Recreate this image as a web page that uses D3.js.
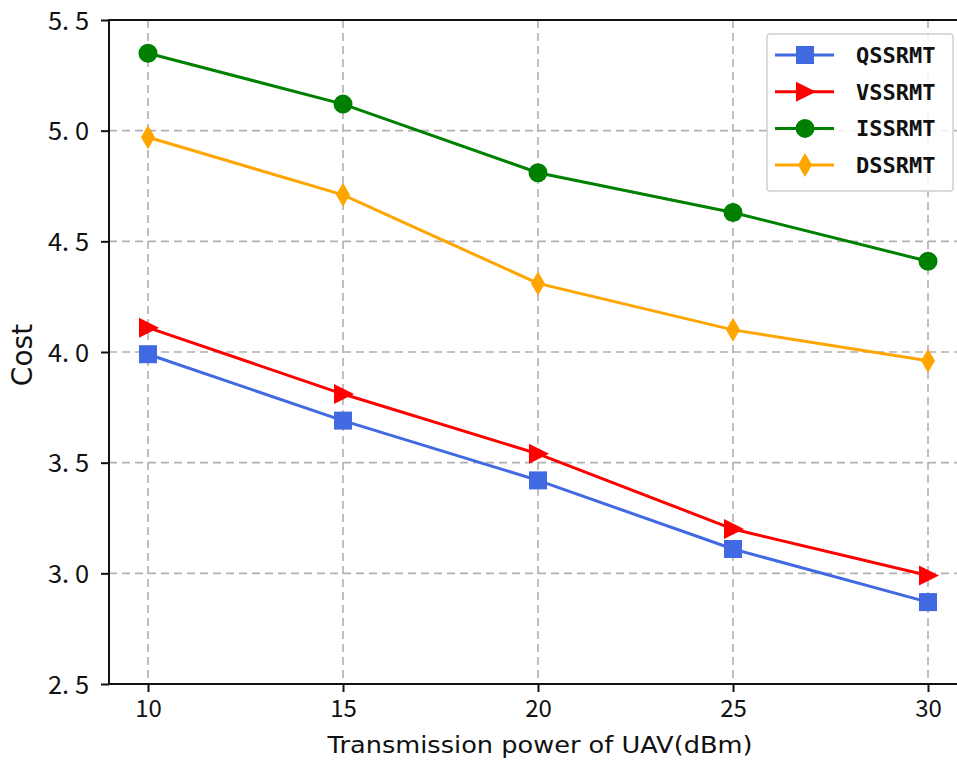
<!DOCTYPE html>
<html>
<head>
<meta charset="utf-8">
<script src="https://cdn.jsdelivr.net/npm/d3@7"></script>
<style>
  body { margin: 0; background: #fff; }
  svg { display: block; }
</style>
</head>
<body>
<div id="chart"></div>
<script>
// Data
const powers = [10, 15, 20, 25, 30];
const qssrmt = [3.99, 3.69, 3.42, 3.11, 2.87];
const vssrmt = [4.11, 3.81, 3.54, 3.20, 2.99];
const issrmt = [5.35, 5.12, 4.81, 4.63, 4.41];
const dssrmt = [4.97, 4.71, 4.31, 4.10, 3.96];
const yTicks = [2.5, 3.0, 3.5, 4.0, 4.5, 5.0, 5.5];

const series = [
  { name: "QSSRMT", values: qssrmt, color: "#4169e1", marker: "square" },
  { name: "VSSRMT", values: vssrmt, color: "#ff0000", marker: "triangle" },
  { name: "ISSRMT", values: issrmt, color: "#008000", marker: "circle" },
  { name: "DSSRMT", values: dssrmt, color: "#ffa500", marker: "diamond" }
];

const outerWidth = 957, outerHeight = 764;
const margin = { top: 20, right: -10, bottom: 80, left: 109 };
const width = outerWidth - margin.left - margin.right;
const height = outerHeight - margin.top - margin.bottom;

const svg = d3.select("#chart")
  .append("svg")
  .attr("width", outerWidth)
  .attr("height", outerHeight);

const g = svg.append("g")
  .attr("transform", `translate(${margin.left}, ${margin.top})`);

const xScale = d3.scaleLinear().domain([9, 31]).range([0, width]);
const yScale = d3.scaleLinear().domain([2.5, 5.5]).range([height, 0]);

const cjkFont = "'Noto Sans CJK SC', 'DejaVu Sans', sans-serif";
const labelFont = "'DejaVu Sans', sans-serif";

// Grid
g.append("g")
  .selectAll("line")
  .data(powers)
  .enter()
  .append("line")
  .attr("x1", d => xScale(d))
  .attr("x2", d => xScale(d))
  .attr("y1", 0)
  .attr("y2", height)
  .style("stroke", "#b0b0b0")
  .style("stroke-width", 1.6)
  .style("stroke-dasharray", "8,5");

g.append("g")
  .selectAll("line")
  .data(yTicks)
  .enter()
  .append("line")
  .attr("x1", 0)
  .attr("x2", width)
  .attr("y1", d => yScale(d))
  .attr("y2", d => yScale(d))
  .style("stroke", "#b0b0b0")
  .style("stroke-width", 1.6)
  .style("stroke-dasharray", "8,5");

// Axes
const xAxis = d3.axisBottom(xScale)
  .tickValues(powers)
  .tickSize(8)
  .tickSizeOuter(0)
  .tickPadding(8);

const yAxis = d3.axisLeft(yScale)
  .tickValues(yTicks)
  .tickSize(8)
  .tickSizeOuter(0)
  .tickPadding(12)
  .tickFormat(d => d.toFixed(1).replace(".", ". "));

const xAxisGroup = g.append("g")
  .attr("transform", `translate(0, ${height})`)
  .call(xAxis);

xAxisGroup.selectAll("text")
  .style("font-size", "24px")
  .style("font-family", cjkFont)
  .attr("fill", "#111");

const yAxisGroup = g.append("g").call(yAxis);

yAxisGroup.selectAll("text")
  .style("font-size", "25px")
  .style("font-family", cjkFont)
  .attr("fill", "#111")
  .attr("dy", "0.36em")
  .attr("textLength", 41)
  .attr("lengthAdjust", "spacingAndGlyphs");

svg.selectAll(".domain").remove();
svg.selectAll(".tick line").style("stroke", "#111").style("stroke-width", 2);

// Frame
g.append("rect")
  .attr("x", 0)
  .attr("y", 0)
  .attr("width", width)
  .attr("height", height)
  .style("fill", "none")
  .style("stroke", "#111")
  .style("stroke-width", 2);

// Axis titles
svg.append("text")
  .attr("x", 540)
  .attr("y", 753)
  .attr("text-anchor", "middle")
  .style("font-size", "23px")
  .style("font-family", labelFont)
  .attr("fill", "#111")
  .attr("textLength", 425)
  .attr("lengthAdjust", "spacingAndGlyphs")
  .text("Transmission power of UAV(dBm)");

svg.append("text")
  .attr("transform", "translate(32, 355) rotate(-90)")
  .attr("text-anchor", "middle")
  .style("font-size", "28px")
  .style("font-family", labelFont)
  .attr("fill", "#111")
  .text("Cost");

// Marker shapes
function markerPath(type) {
  if (type === "square") return "M-9,-9L9,-9L9,9L-9,9Z";
  if (type === "triangle") return "M-9,-10L11,0L-9,10Z";
  if (type === "circle") return d3.symbol().type(d3.symbolCircle).size(Math.PI * 9.5 * 9.5)();
  return "M0,-12L7,0L0,12L-7,0Z";
}

const line = d3.line()
  .x((d, i) => xScale(powers[i]))
  .y(d => yScale(d));

series.forEach(function (s) {
  g.append("path")
    .datum(s.values)
    .attr("d", line)
    .style("fill", "none")
    .style("stroke", s.color)
    .style("stroke-width", 3);

  g.selectAll(null)
    .data(s.values)
    .enter()
    .append("path")
    .attr("d", markerPath(s.marker))
    .attr("transform", (d, i) => `translate(${xScale(powers[i])}, ${yScale(d)})`)
    .style("fill", s.color);
});

// Legend
const legend = svg.append("g").attr("transform", "translate(767, 34)");

legend.append("rect")
  .attr("x", 0)
  .attr("y", 0)
  .attr("width", 186)
  .attr("height", 157)
  .attr("rx", 3)
  .style("fill", "#fff")
  .style("fill-opacity", 0.85)
  .style("stroke", "#d0d0d0")
  .style("stroke-width", 1.5);

series.forEach(function (s, i) {
  const yy = 21 + i * 36.7;
  legend.append("line")
    .attr("x1", 8)
    .attr("x2", 67)
    .attr("y1", yy)
    .attr("y2", yy)
    .style("stroke", s.color)
    .style("stroke-width", 3);
  legend.append("path")
    .attr("d", markerPath(s.marker))
    .attr("transform", `translate(38, ${yy})`)
    .style("fill", s.color);
  legend.append("text")
    .attr("x", 89)
    .attr("y", yy)
    .attr("dy", "0.36em")
    .style("font-size", "22px")
    .style("font-weight", "bold")
    .style("font-family", "'DejaVu Sans Mono', monospace")
    .attr("fill", "#111")
    .text(s.name);
});
</script>
</body>
</html>
